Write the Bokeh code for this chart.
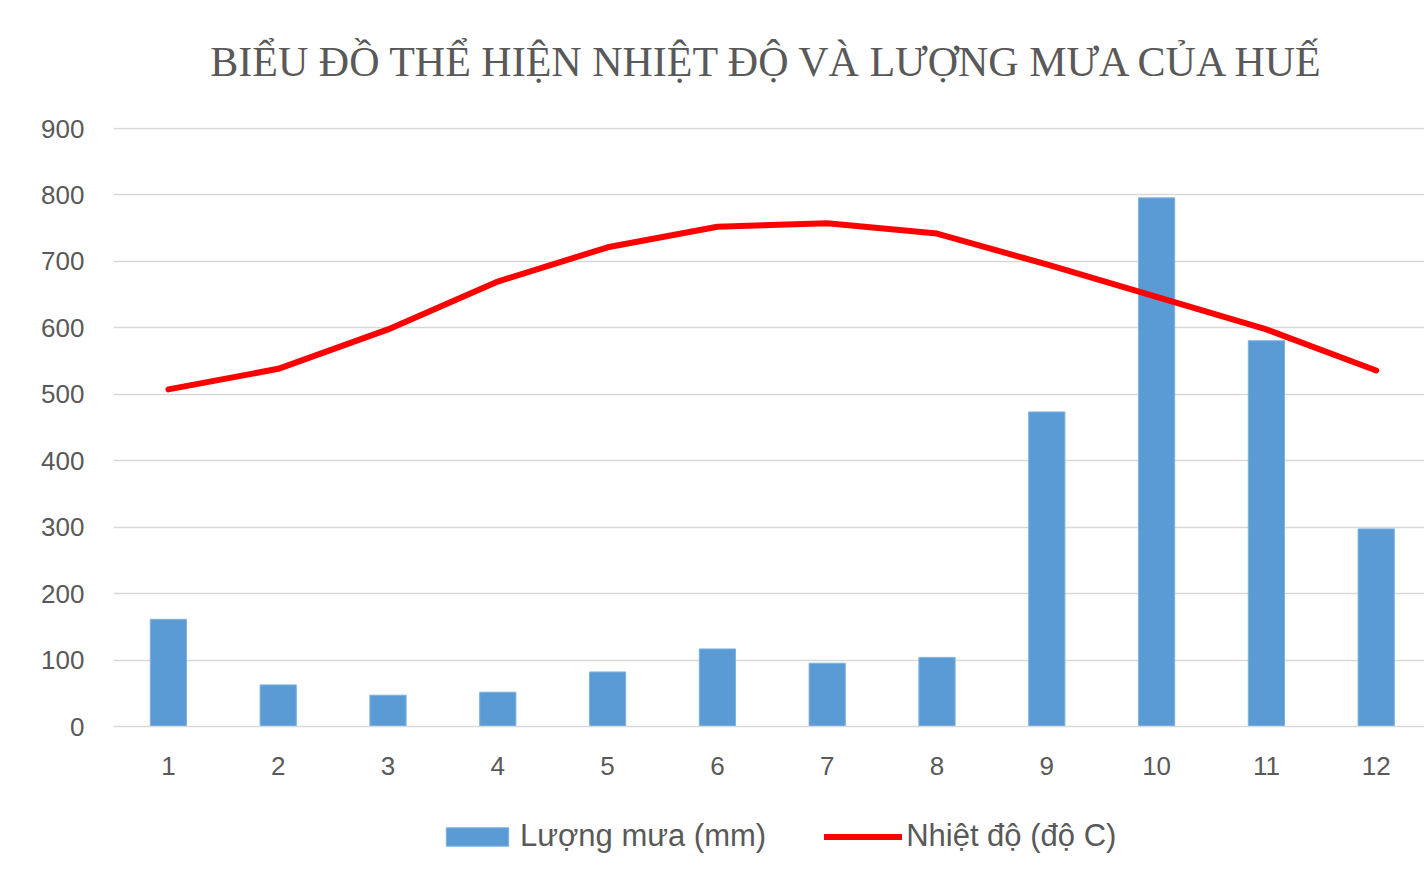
import numpy as np
from bokeh.plotting import figure
from bokeh.layouts import column
from bokeh.models import Range1d, Legend, LegendItem, FixedTicker, ColumnDataSource, Title
from bokeh.embed import file_html
from bokeh.resources import INLINE

# ---- data ----
months = [1, 2, 3, 4, 5, 6, 7, 8, 9, 10, 11, 12]
rainfall_mm = [161.3, 62.6, 47.1, 51.6, 82.1, 116.7, 95.3, 104.0, 473.4, 795.6, 580.6, 297.4]
temperature_c = [19.7, 20.9, 23.2, 26.0, 28.0, 29.2, 29.4, 28.8, 27.0, 25.1, 23.2, 20.8]
y_ticks = [0, 100, 200, 300, 400, 500, 600, 700, 800, 900]
title_text = "BIỂU ĐỒ THỂ HIỆN NHIỆT ĐỘ VÀ LƯỢNG MƯA CỦA HUẾ"
rain_label = "Lượng mưa (mm)"
temp_label = "Nhiệt độ (độ C)"

src = ColumnDataSource(dict(month=months, rain=rainfall_mm, temp=temperature_c))

GRAY = "#595959"
BLUE = "#5B9BD5"
RED = "#FF0000"
W = 1424
H_MAIN, H_LEG = 800, 80
LEFT, TOP, ZERO_Y = 113, 127, 726
px_per_unit = 598 / 900.0
cat_px = 109.8
frame_w = W - LEFT
y_end = (ZERO_Y - TOP) / px_per_unit

p = figure(width=W, height=H_MAIN, output_backend="svg", toolbar_location=None,
           x_range=Range1d(0.5, 0.5 + frame_w / cat_px), y_range=Range1d(0, y_end),
           min_border_left=LEFT, min_border_right=0, min_border_top=TOP,
           min_border_bottom=H_MAIN - ZERO_Y,
           background_fill_color="white", border_fill_color="white")
p.extra_y_ranges = {"temp": Range1d(0, 35)}
p.outline_line_color = None
p.title.text = ""

# spacer (closest to frame), then the real title above it
p.add_layout(Title(text=" ", text_font_size="1px", standoff=40), "above")
p.add_layout(Title(text=title_text, align="center", text_font="Liberation Serif",
                   text_font_size="42px", text_font_style="normal",
                   text_color=GRAY, standoff=0), "above")

bars = p.vbar(x="month", top="rain", width=0.33, source=src,
              fill_color=BLUE, line_color="#7FB2E0", line_width=1)
line = p.line(x="month", y="temp", source=src, y_range_name="temp",
              line_color=RED, line_width=6, line_cap="round", line_join="round")

# axes
p.xaxis.ticker = FixedTicker(ticks=months)
p.xaxis.major_tick_line_color = None
p.xaxis.major_tick_out = 0
p.xaxis.major_tick_in = 0
p.xaxis.minor_tick_line_color = None
p.xaxis.axis_line_color = "#d9d9d9"
p.xaxis.axis_line_width = 1.3
p.xaxis.major_label_text_font = "Liberation Sans"
p.xaxis.major_label_text_font_size = "26px"
p.xaxis.major_label_text_color = GRAY
p.xaxis.major_label_standoff = 30

p.yaxis.ticker = FixedTicker(ticks=y_ticks)
p.yaxis.major_tick_line_color = None
p.yaxis.major_tick_out = 0
p.yaxis.major_tick_in = 0
p.yaxis.minor_tick_line_color = None
p.yaxis.axis_line_color = None
p.yaxis.major_label_text_font = "Liberation Sans"
p.yaxis.major_label_text_font_size = "26px"
p.yaxis.major_label_text_color = GRAY
p.yaxis.major_label_standoff = 29

p.xgrid.grid_line_color = None
p.ygrid.grid_line_color = "#d9d9d9"
p.ygrid.grid_line_width = 1.3

# ---- legend strip (separate figure below the chart; its frame is aligned with the chart's) ----
leg = figure(width=W, height=H_LEG, output_backend="svg", toolbar_location=None,
             x_axis_type=None, y_axis_type=None, min_border=0,
             x_range=Range1d(0, 1), y_range=Range1d(0, 1),
             background_fill_color="white", border_fill_color="white")
leg.outline_line_color = None
leg.xgrid.grid_line_color = None
leg.ygrid.grid_line_color = None
# legend-only swatch renderers: a single undefined (NaN) row, so nothing is drawn in the strip
swatch = ColumnDataSource(dict(x=np.array([np.nan]), y=np.array([np.nan])))
leg_bar = leg.vbar(x="x", top="y", width=0.33, source=swatch, fill_color=BLUE, line_color="#7FB2E0")
leg_line = leg.line(x="x", y="y", source=swatch, line_color=RED, line_width=6, line_cap="round")

legend = Legend(items=[LegendItem(label=rain_label, renderers=[leg_bar]),
                       LegendItem(label=temp_label, renderers=[leg_line])],
                orientation="horizontal", location=(438 - LEFT, 26),
                glyph_width=78, glyph_height=23, label_standoff=4, spacing=58,
                label_text_font="Liberation Sans", label_text_font_size="31px",
                label_text_color=GRAY, border_line_color=None,
                background_fill_alpha=0, padding=0, margin=0)
leg.add_layout(legend, "center")

layout = column(p, leg, spacing=0)
open("out.html", "w").write(file_html(layout, INLINE))
